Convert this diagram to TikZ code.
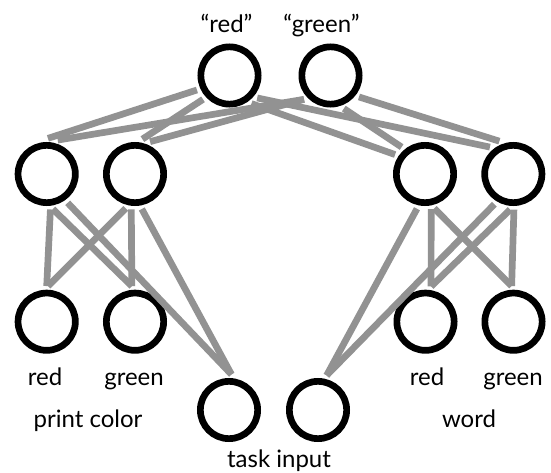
\documentclass[tikz,border=0pt]{standalone}
\usepackage{fontspec}
\setmainfont{Lato}
\definecolor{linkgray}{RGB}{146,146,146}

\begin{document}
\begin{tikzpicture}[x=1pt, y=-1pt,
  font=\fontsize{24}{27}\selectfont,
  unit/.style={circle, draw=black, line width=6.7pt, minimum size=57.3pt,
              inner sep=0pt, outer sep=7pt},
  link/.style={draw=linkgray, line width=6.7pt},
  lbl/.style={anchor=base, inner sep=0pt}
]
\useasboundingbox (0,0) rectangle (551,473);

% units
\node[unit] (outred)   at (229.5,75.5) {};
\node[unit] (outgreen) at (330.5,75.5) {};
\node[unit] (hcol1) at (46.7,174) {};
\node[unit] (hcol2) at (135,174) {};
\node[unit] (hwrd1) at (425,174) {};
\node[unit] (hwrd2) at (513.3,174) {};
\node[unit] (colred)   at (46.7,321.7) {};
\node[unit] (colgreen) at (135,321.7) {};
\node[unit] (wrdred)   at (425.5,321.7) {};
\node[unit] (wrdgreen) at (513.5,321.7) {};
\node[unit] (task1) at (229,410) {};
\node[unit] (task2) at (318,410) {};

% output <-> hidden
\draw[link] (outred.204) -- (hcol1.88);
\draw[link] (outred.222) -- (hcol2.78);
\draw[link] (outgreen.222) -- (hcol1.72);
\draw[link] (outgreen.222) -- (hcol2.65);
\draw[link] (outred.308) -- (hwrd1.147);
\draw[link] (outred.321) -- (hwrd2.131);
\draw[link] (outgreen.292) -- (hwrd1.131);
\draw[link] (outgreen.323) -- (hwrd2.113);

% hidden <-> input
\draw[link] (hcol1.276) -- (colred.90);
\draw[link] (hcol1.280) -- (colgreen.95);
\draw[link] (hcol2.255) -- (colred.88);
\draw[link] (hcol2.264) -- (colgreen.95);
\draw[link] (hcol1.306) -- (task1.86);
\draw[link] (hcol2.281) -- (task1.86);
\draw[link] (hwrd1.257) -- (task2.76);
\draw[link] (hwrd1.280) -- (wrdred.81);
\draw[link] (hwrd1.285) -- (wrdgreen.93);
\draw[link] (hwrd2.238) -- (task2.76);
\draw[link] (hwrd2.265) -- (wrdred.81);
\draw[link] (hwrd2.271) -- (wrdgreen.93);

% labels
\node[lbl] (lblred)   at (226.5,33) {“red”};
\node[lbl] (lblgreen) at (321.5,33) {“green”};
\node[lbl] (lblcolred)   at (45,385) {red};
\node[lbl] (lblcolgreen) at (134,385) {green};
\node[lbl] (lblcol) at (88,427) {print color};
\node[lbl] (lblwrdred)   at (427,385) {red};
\node[lbl] (lblwrdgreen) at (513,385) {green};
\node[lbl] (lblwrd) at (469,427) {word};
\node[lbl] (lbltask) at (279,467) {task input};
\end{tikzpicture}
\end{document}
